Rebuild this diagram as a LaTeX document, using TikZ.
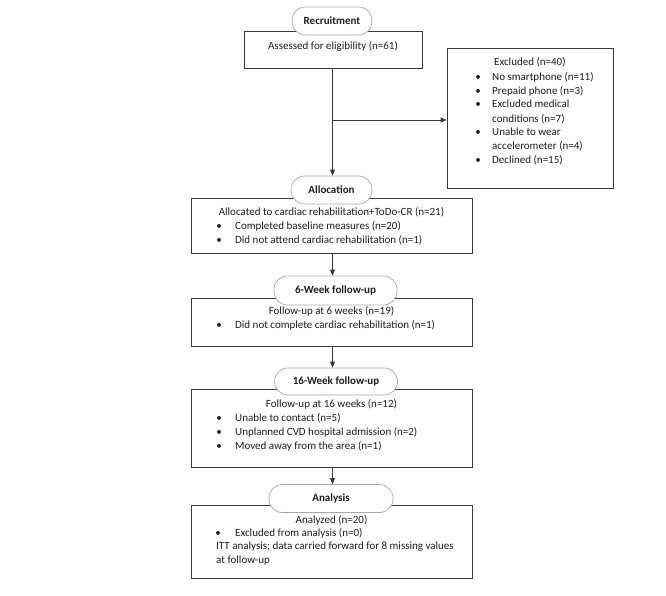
\documentclass[tikz,border=0pt]{standalone}
\usepackage{fontspec}
\setmainfont{Carlito}
\usetikzlibrary{arrows.meta}
\definecolor{boxc}{HTML}{3A3A3A}
\definecolor{pillc}{HTML}{A8A8A8}
\definecolor{txtc}{HTML}{1E1E1E}
\begin{document}
\begin{tikzpicture}[x=1pt,y=-1pt,
  font=\fontsize{11}{14}\selectfont,
  boxnode/.style={draw=boxc, line width=0.8pt, fill=white, inner sep=0pt},
  pill/.style={draw=pillc, line width=0.7pt, fill=white, rounded corners=13.5pt, inner sep=0pt,
     minimum height=28pt, text=txtc, font=\fontsize{11}{14}\selectfont\bfseries},
  txt/.style={inner sep=0pt, text=txtc},
  conn/.style={draw=boxc, line width=0.8pt, -{Triangle[length=6pt,width=5pt]}}
]
\useasboundingbox (0,0) rectangle (666,595);

% boxes
\node[boxnode, minimum width=178pt, minimum height=37pt] (assess) at (333,49.5) {};
\node[boxnode, minimum width=166pt, minimum height=140pt] (excl) at (530,118) {};
\node[boxnode, minimum width=281pt, minimum height=55pt] (alloc) at (331.5,225.5) {};
\node[boxnode, minimum width=281pt, minimum height=48pt] (six) at (331.5,322) {};
\node[boxnode, minimum width=281pt, minimum height=78pt] (sixteen) at (331.5,428) {};
\node[boxnode, minimum width=281pt, minimum height=73pt] (anal) at (331.5,541.5) {};

% pills
\node[pill, minimum width=80pt] (precruit) at (332,21) {Recruitment};
\node[pill, minimum width=81pt] (palloc) at (331.5,190) {Allocation};
\node[pill, minimum width=123pt, minimum height=29pt] (psix) at (335.5,290.5) {6-Week follow-up};
\node[pill, minimum width=123pt, minimum height=27pt] (psixteen) at (336,381.5) {16-Week follow-up};
\node[pill, minimum width=124pt] (panal) at (331,498.5) {Analysis};

% texts
\node[txt, anchor=mid] (tassess) at (333,47) {Assessed for eligibility (n=61)};

\node[txt, anchor=mid west] (te0) at (494,63) {Excluded (n=40)};
\node[txt, anchor=mid] (be1) at (478,77.7) {\textbullet};
\node[txt, anchor=mid west] (te1) at (492,77.7) {No smartphone (n=11)};
\node[txt, anchor=mid] (be2) at (478,91.7) {\textbullet};
\node[txt, anchor=mid west] (te2) at (492,91.7) {Prepaid phone (n=3)};
\node[txt, anchor=mid] (be3) at (478,105.6) {\textbullet};
\node[txt, anchor=mid west] (te3) at (492,105.6) {Excluded medical};
\node[txt, anchor=mid west] (te3b) at (492,119.7) {conditions (n=7)};
\node[txt, anchor=mid] (be4) at (478,133.3) {\textbullet};
\node[txt, anchor=mid west] (te4) at (492,133.3) {Unable to wear};
\node[txt, anchor=mid west] (te4b) at (492,147.6) {accelerometer (n=4)};
\node[txt, anchor=mid] (be5) at (478,161) {\textbullet};
\node[txt, anchor=mid west] (te5) at (492,161) {Declined (n=15)};

\node[txt, anchor=mid] (ta0) at (331.5,213.3) {Allocated to cardiac rehabilitation+ToDo-CR (n=21)};
\node[txt, anchor=mid] (ba1) at (219,226.7) {\textbullet};
\node[txt, anchor=mid west] (ta1) at (235,226.7) {Completed baseline measures (n=20)};
\node[txt, anchor=mid] (ba2) at (219,240.7) {\textbullet};
\node[txt, anchor=mid west] (ta2) at (235,240.7) {Did not attend cardiac rehabilitation (n=1)};

\node[txt, anchor=mid] (ts0) at (331.5,312) {Follow-up at 6 weeks (n=19)};
\node[txt, anchor=mid] (bs1) at (219,326.3) {\textbullet};
\node[txt, anchor=mid west] (ts1) at (235,326.3) {Did not complete cardiac rehabilitation (n=1)};

\node[txt, anchor=mid] (tx0) at (331.5,405) {Follow-up at 16 weeks (n=12)};
\node[txt, anchor=mid] (bx1) at (219,419) {\textbullet};
\node[txt, anchor=mid west] (tx1) at (235,419) {Unable to contact (n=5)};
\node[txt, anchor=mid] (bx2) at (219,433) {\textbullet};
\node[txt, anchor=mid west] (tx2) at (235,433) {Unplanned CVD hospital admission (n=2)};
\node[txt, anchor=mid] (bx3) at (219,447) {\textbullet};
\node[txt, anchor=mid west] (tx3) at (235,447) {Moved away from the area (n=1)};

\node[txt, anchor=mid] (tn0) at (331.5,520.7) {Analyzed (n=20)};
\node[txt, anchor=mid] (bn1) at (218,534) {\textbullet};
\node[txt, anchor=mid west] (tn1) at (235,534) {Excluded from analysis (n=0)};
\node[txt, anchor=mid west] (tn2) at (216,547.5) {ITT analysis; data carried forward for 8 missing values};
\node[txt, anchor=mid west] (tn3) at (216,561) {at follow-up};

% connectors
\coordinate (branch) at (332.5,120);
\draw[conn] (assess.south -| branch) -- (palloc.north -| branch);
\draw[conn] (branch) -- (branch -| excl.west);
\draw[conn] (alloc.south -| branch) -- (psix.north -| branch);
\draw[conn] (six.south -| branch) -- (psixteen.north -| branch);
\draw[conn] (sixteen.south -| branch) -- (panal.north -| branch);
\end{tikzpicture}
\end{document}
